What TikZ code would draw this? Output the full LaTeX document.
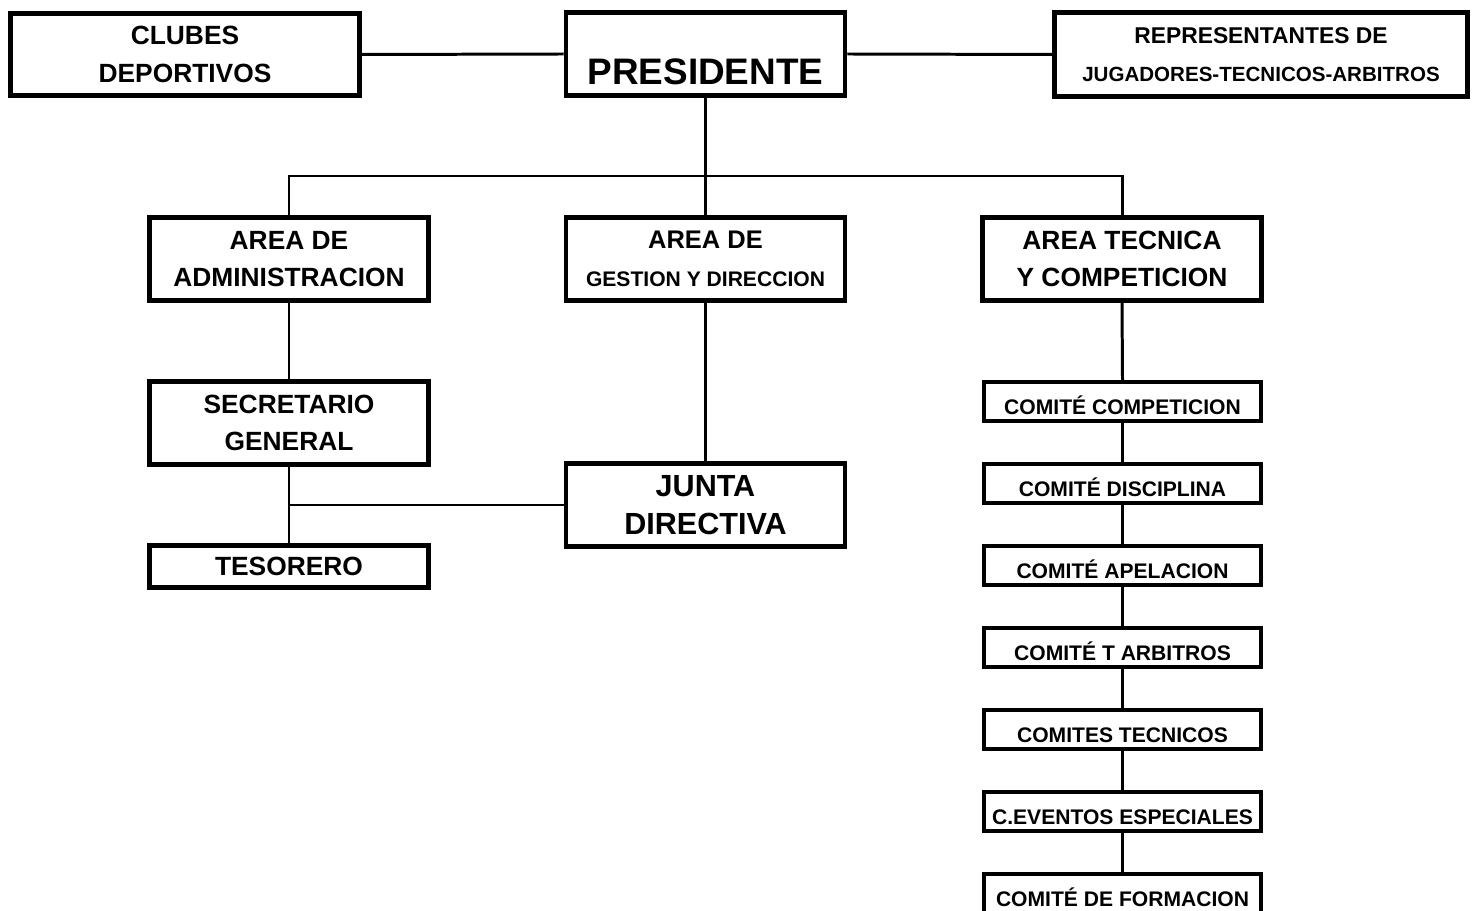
\documentclass[tikz,border=0pt]{standalone}
\usepackage{fontspec}
\setmainfont{Liberation Sans}

\begin{document}
\begin{tikzpicture}[x=0.02cm,y=-0.02cm,
        box/.style={draw,line width=2.8pt,inner sep=0pt,minimum width=5.58cm,minimum height=1.66cm,align=center,font=\bfseries\fontsize{15}{21.5}\selectfont},
        comite/.style={draw,line width=2pt,inner sep=0pt,minimum width=5.55cm,minimum height=0.79cm,text height=15.3pt,text depth=0pt,font=\bfseries\fontsize{12}{14}\selectfont},
        link/.style={line width=1.7pt}]

        % Background
        \useasboundingbox (0,0) rectangle (1479,911);
        \fill[white] (0,0) rectangle (1479,911);

        % Top row
        \node[box,minimum width=6.98cm,minimum height=1.64cm] (clubes) at (185,54.5) {CLUBES\\DEPORTIVOS};
        \node[box,text height=35pt,text depth=0pt,font=\bfseries\fontsize{21}{25}\selectfont] (pres) at (705.5,54) {PRESIDENTE};
        \node[box,minimum width=8.26cm,minimum height=1.68cm,font=\bfseries\fontsize{13}{21.5}\selectfont] (repr) at (1261,54.5) {REPRESENTANTES DE\\{\fontsize{11.7}{21.5}\selectfont JUGADORES-TECNICOS-ARBITROS}};

        % Areas
        \node[box] (admin) at (289,259) {AREA DE\\ADMINISTRACION};
        \node[box,font=\bfseries\fontsize{14.5}{21.5}\selectfont] (gest) at (705.5,259) {AREA DE\\{\fontsize{12}{21.5}\selectfont GESTION Y DIRECCION}};
        \node[box] (tec) at (1122,259) {AREA TECNICA\\Y COMPETICION};

        % Left branch
        \node[box] (secr) at (289,423) {SECRETARIO\\GENERAL};
        \node[box,minimum height=0.84cm] (teso) at (289,566.5) {TESORERO};
        \node[box,font=\bfseries\fontsize{17.4}{21.5}\selectfont] (junta) at (705.5,505) {JUNTA\\DIRECTIVA};

        % Comites
        \foreach \i/\name in {1/COMITÉ COMPETICION,2/COMITÉ DISCIPLINA,3/COMITÉ APELACION,4/COMITÉ T ARBITROS,5/COMITES TECNICOS,6/C.EVENTOS ESPECIALES,7/COMITÉ DE FORMACION} {
            \node[comite] (c\i) at (1122.5,{401.5+82*(\i-1)}) {\name};
        }

        % Lines
        \coordinate (bus) at (705.5,176);
        \draw[link] (clubes.east) -- (pres.west);
        \draw[link] (pres.east) -- (repr.west);
        \draw[link] (pres.south) -- (gest.north);
        \draw[link] (admin.north) |- (bus) -| (tec.north);
        \draw[link] (admin.south) -- (secr.north);
        \draw[link] (secr.south) -- (teso.north);
        \draw[link] (gest.south) -- (junta.north);
        \draw[link] (junta.west) -- (junta.west -| secr.south);
        \draw[link] (tec.south) -- (c1.north);
        \foreach \j [count=\i] in {2,...,7} {
            \draw[link] (c\i.south) -- (c\j.north);
        }

    \end{tikzpicture}
\end{document}
